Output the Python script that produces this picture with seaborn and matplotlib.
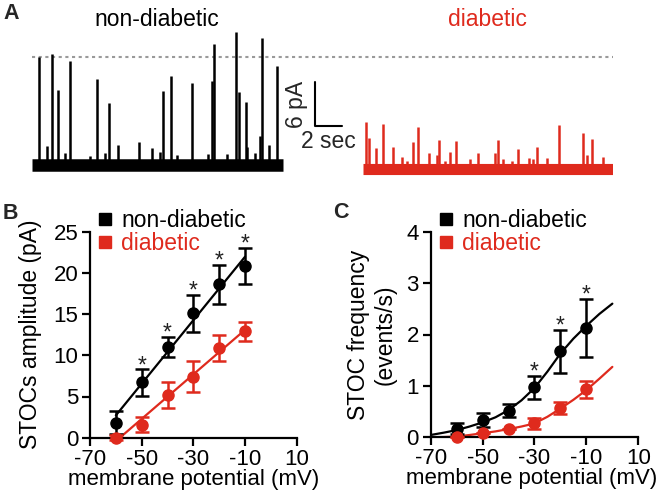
import matplotlib
matplotlib.use("Agg")
import matplotlib.pyplot as plt
from matplotlib.lines import Line2D
import seaborn as sns

BLACK = "#000000"
RED = "#DF2A1D"
FS = 16.5
TFS = 16

# ---- panel A: STOC traces (time in s, amplitude in pA above baseline)
nd_span = [0.0, 18.58]
nd_spike_t = [0.54, 1.09, 1.46, 1.90, 2.44, 2.81, 4.29, 4.79, 5.40, 5.72,
              6.39, 7.90, 8.86, 9.47, 9.72, 10.29, 10.71, 11.82, 13.05, 13.35,
              13.47, 14.41, 15.08, 15.34, 15.82, 15.94, 16.50, 16.88, 17.02, 17.54,
              18.11]
nd_spike_amp = [14.8, 2.6, 15.1, 10.3, 1.6, 14.2, 1.2, 11.8, 1.6, 8.4,
                2.7, 3.2, 2.3, 1.8, 10.1, 12.1, 1.4, 11.2, 1.5, 11.4,
                16.5, 1.5, 18.2, 9.9, 8.6, 2.5, 1.7, 4.0, 17.3, 2.7,
                13.5]
d_span = [24.5, 43.0]
d_baseline = -0.6
d_spike_t = [24.70, 24.97, 25.46, 25.96, 26.74, 27.36, 27.74, 28.22, 28.59, 29.39,
             29.96, 30.15, 30.57, 30.94, 31.38, 32.42, 32.99, 34.27, 34.52, 34.88,
             35.51, 36.00, 36.79, 37.10, 37.40, 38.10, 39.03, 40.81, 41.06, 41.47,
             42.29]
d_spike_amp = [6.5, 4.3, 2.9, 6.2, 3.0, 1.7, 1.2, 3.8, 5.8, 2.3,
               1.9, 4.0, 1.1, 2.4, 3.9, 1.4, 2.2, 2.3, 4.0, 1.4,
               1.2, 2.8, 1.5, 1.4, 3.1, 1.5, 6.0, 5.0, 2.0, 4.1,
               1.7]
threshold = 14.7

# ---- panels B and C
voltage = [-60, -50, -40, -30, -20, -10]
amp_nd = [1.8, 6.7, 11.0, 15.1, 18.6, 20.8]
amp_nd_err = [1.4, 1.6, 1.2, 2.25, 2.4, 2.2]
amp_d = [0.0, 1.6, 5.2, 7.4, 10.9, 12.9]
amp_d_err = [0.3, 0.9, 1.6, 1.85, 1.55, 1.15]
amp_sig = [-50, -40, -30, -20, -10]

freq_nd = [0.17, 0.34, 0.52, 0.97, 1.67, 2.13]
freq_nd_err = [0.11, 0.13, 0.12, 0.23, 0.42, 0.57]
freq_d = [0.0, 0.08, 0.16, 0.27, 0.57, 0.93]
freq_d_err = [0.0, 0.0, 0.0, 0.1, 0.115, 0.17]
freq_sig = [-30, -20, -10]

fit_v = [-70, -65, -60, -55, -50, -45, -40, -35, -30, -25, -20, -15, -10, -5, 0]
fit_nd = [0.045, 0.09, 0.14, 0.21, 0.29, 0.39, 0.53, 0.72, 0.96, 1.28, 1.63, 1.92, 2.17, 2.40, 2.60]
fit_d = [0.0, 0.005, 0.015, 0.045, 0.08, 0.115, 0.16, 0.21, 0.27, 0.40, 0.56, 0.73, 0.92, 1.14, 1.37]

sns.set_theme(style="ticks")
plt.rcParams["font.family"] = ["Liberation Sans", "DejaVu Sans"]
plt.rcParams["axes.unicode_minus"] = False

W, H = 660, 494
fig = plt.figure(figsize=(W / 100, H / 100), dpi=100, facecolor="white")


def px(l, t, r, b):
    return [l / W, 1 - b / H, (r - l) / W, (b - t) / H]


# ---------------- panel A
axA = fig.add_axes(px(32, 18.4, 613, 176))
axA.set_xlim(0, 43)
axA.set_ylim(-1.5, 20)
axA.axis("off")
axA.plot([0, 43], [threshold, threshold], color="#9a9a9a", lw=1.5, ls=(0, (1.5, 1.7)))
axA.plot(nd_span, [0, 0], color=BLACK, lw=9, solid_capstyle="butt")
axA.vlines(nd_spike_t, 0, nd_spike_amp, color=BLACK, lw=1.8)
axA.plot(d_span, [d_baseline, d_baseline], color=RED, lw=8, solid_capstyle="butt")
axA.vlines(d_spike_t, d_baseline, [d_baseline + a for a in d_spike_amp], color=RED, lw=1.8)
# scale bar
axA.plot([20.95, 20.95, 22.95], [11.3, 5.3, 5.3], color=BLACK, lw=1.5)
axA.text(19.6, 8.3, "6 pA", rotation=90, ha="center", va="center", fontsize=FS)
axA.text(21.9, 3.2, "2 sec", ha="center", va="center", fontsize=FS)
fig.text(157 / W, 1 - 20 / H, "non-diabetic", ha="center", va="center", fontsize=FS, color=BLACK)
fig.text(487 / W, 1 - 20 / H, "diabetic", ha="center", va="center", fontsize=FS, color=RED)

for lab, (x, y) in zip("ABC", [(3, 3), (3, 203), (333, 202)]):
    fig.text(x / W, 1 - y / H, lab, ha="left", va="top", fontsize=15.5, fontweight="bold")


def style(ax, ylim, yticks, xlab_x):
    ax.set_xlim(-70, 10)
    ax.set_ylim(*ylim)
    ax.set_xticks([-70, -50, -30, -10, 10])
    ax.set_yticks(yticks)
    for s in ["top", "right"]:
        ax.spines[s].set_visible(False)
    for s in ["left", "bottom"]:
        ax.spines[s].set_linewidth(1.6)
        ax.spines[s].set_color(BLACK)
    ax.tick_params(axis="both", length=6, width=1.6, color=BLACK, labelsize=TFS, labelcolor=BLACK)
    ax.tick_params(axis="y", pad=2.5)
    ax.tick_params(axis="x", pad=2)
    ax.set_xlabel("membrane potential (mV)", fontsize=16, color=BLACK)
    ax.xaxis.set_label_coords(xlab_x, -0.15)
    ax.xaxis.label.set_va("top")


def points(ax, x, y, err, color):
    cont = ax.errorbar(x, y, yerr=err, fmt="o", ms=8, color=color, ecolor=color,
                       elinewidth=1.8, capsize=5, capthick=1.8, zorder=4)
    for art in cont.lines[1] + cont.lines[2] + (cont.lines[0],):
        art.set_clip_on(False)


def stars(ax, x, y, err, sig):
    for v, m, e in zip(x, y, err):
        if v in sig:
            ax.annotate("*", xy=(v, m + e), xytext=(0, -2), textcoords="offset points",
                        ha="center", va="baseline", fontsize=FS, color="#222222")


def legend(ax):
    handles = [Line2D([], [], marker="s", ls="", color=BLACK, ms=9),
               Line2D([], [], marker="s", ls="", color=RED, ms=9)]
    ax.legend(handles, ["non-diabetic", "diabetic"], labelcolor=[BLACK, RED], frameon=False,
              loc="upper left", bbox_to_anchor=(0.03, 1.11), handlelength=0.75,
              handletextpad=0.35, labelspacing=0.0, borderaxespad=0, borderpad=0, fontsize=FS)


# ---------------- panel B
axB = fig.add_axes(px(90, 231.7, 296.7, 437.7))
sns.regplot(x=voltage, y=amp_nd, ci=None, scatter=False, truncate=True, color=BLACK,
            line_kws={"lw": 1.6}, ax=axB)
sns.regplot(x=voltage, y=amp_d, ci=None, scatter=False, truncate=True, color=RED,
            line_kws={"lw": 1.6}, ax=axB)
points(axB, voltage, amp_nd, amp_nd_err, BLACK)
points(axB, voltage, amp_d, amp_d_err, RED)
stars(axB, voltage, amp_nd, amp_nd_err, amp_sig)
style(axB, (0, 25), [0, 5, 10, 15, 20, 25], 0.5)
axB.set_ylabel("STOCs amplitude (pA)", fontsize=FS, color=BLACK)
axB.yaxis.set_label_coords(-0.234, 0.5)
legend(axB)

# ---------------- panel C
axC = fig.add_axes(px(430.7, 231.7, 638.3, 437.3))
sns.lineplot(x=fit_v, y=fit_nd, color=BLACK, lw=1.6, ax=axC)
sns.lineplot(x=fit_v, y=fit_d, color=RED, lw=1.6, ax=axC)
points(axC, voltage, freq_nd, freq_nd_err, BLACK)
points(axC, voltage, freq_d, freq_d_err, RED)
stars(axC, voltage, freq_nd, freq_nd_err, freq_sig)
style(axC, (0, 4), [0, 1, 2, 3, 4], 0.485)
axC.set_ylabel("STOC frequency\n(events/s)", fontsize=FS, color=BLACK, linespacing=1.25)
axC.yaxis.set_label_coords(-0.162, 0.5)
legend(axC)

fig.savefig("out.png", dpi=100, facecolor="white")
